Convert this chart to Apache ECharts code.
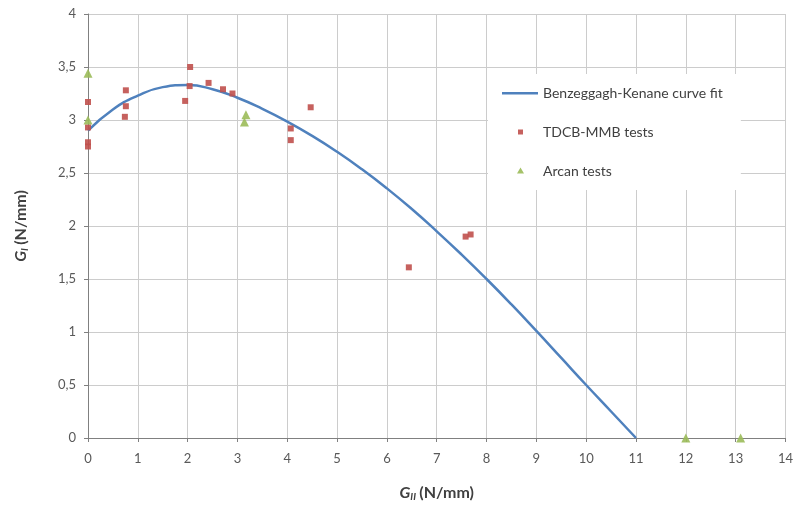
<!DOCTYPE html>
<html>
<head>
<meta charset="utf-8">
<script src="https://cdn.jsdelivr.net/npm/echarts@6/dist/echarts.min.js"></script>
<style>html,body{margin:0;padding:0;background:#fff}#c{width:796px;height:510px}</style>
</head>
<body>
<div id="c"></div>
<script>
var curveX = [0,0.5,1,1.5,2,2.5,3,3.5,4,4.5,5,5.5,6,6.5,7,7.5,8,8.5,9,9.5,10,10.5,11];
var curveY = [2.90,3.10,3.23,3.31,3.33,3.29,3.21,3.105,2.985,2.85,2.70,2.535,2.355,2.16,1.95,1.73,1.50,1.26,1.01,0.755,0.50,0.25,0];
var tdcbX = [0,0,0,0,0.76,0.76,0.74,1.95,2.05,2.04,2.42,2.71,2.90,4.07,4.07,4.47,6.44,7.58,7.68];
var tdcbY = [3.17,2.93,2.79,2.75,3.28,3.13,3.03,3.18,3.50,3.32,3.35,3.29,3.25,2.92,2.81,3.12,1.61,1.90,1.92];
var arcanX = [0,0,3.14,3.17,12.0,13.1];
var arcanY = [3.44,3.00,2.98,3.05,0,0];
var seriesNames = ['Benzeggagh-Kenane curve fit','TDCB-MMB tests','Arcan tests'];

function zip(a,b){return a.map(function(v,i){return [v,b[i]];});}
var FONT = 'Lato, "Open Sans", sans-serif';
var BOX = 'M0,0 L0.01,0 L0,0.01 Z M36,14 L35.99,14 L36,13.99 Z ';
var chart = echarts.init(document.getElementById('c'), null, {renderer:'canvas'});
chart.setOption({
  backgroundColor:'#fff',
  animation:false,
  grid:{left:88,right:8,top:14,bottom:72,containLabel:false},
  legend:{
    orient:'vertical',
    left:488, top:74,
    width:264,
    backgroundColor:'#fff',
    padding:[12,18,12,14],
    itemGap:25,
    itemWidth:36, itemHeight:14,
    textStyle:{fontFamily:FONT,fontSize:14,color:'#404040'},
    data:[
      {name:seriesNames[0], icon:'path://' + BOX + 'M0,6 L36,6 L36,8.5 L0,8.5 Z'},
      {name:seriesNames[1], icon:'path://' + BOX + 'M16,4.5 L21,4.5 L21,9.5 L16,9.5 Z'},
      {name:seriesNames[2], icon:'path://' + BOX + 'M18.5,3.5 L22,9.5 L15,9.5 Z'}
    ]
  },
  xAxis:{
    type:'value', min:0, max:14, interval:1,
    name:'{g|G}{s|II} {n|(N/mm)}', nameLocation:'middle', nameGap:46,
    nameTextStyle:{rich:{
      g:{fontFamily:FONT,fontSize:16,fontWeight:'bold',fontStyle:'italic',color:'#404040'},
      s:{fontFamily:FONT,fontSize:10,fontWeight:'bold',fontStyle:'italic',color:'#404040',verticalAlign:'bottom',padding:[8,0,0,0]},
      n:{fontFamily:FONT,fontSize:16,fontWeight:'bold',color:'#404040'}
    }},
    axisLine:{lineStyle:{color:'#808080',width:1}},
    axisTick:{show:true,length:4,lineStyle:{color:'#808080'}},
    axisLabel:{fontFamily:FONT,fontSize:13,color:'#595959',margin:14},
    splitLine:{show:true,lineStyle:{color:'#cccccc',width:1}}
  },
  yAxis:{
    type:'value', min:0, max:4, interval:0.5,
    name:'{g|G}{s|I} {n|(N/mm)}', nameLocation:'middle', nameGap:58, nameRotate:90,
    nameTextStyle:{rich:{
      g:{fontFamily:FONT,fontSize:16,fontWeight:'bold',fontStyle:'italic',color:'#404040'},
      s:{fontFamily:FONT,fontSize:10,fontWeight:'bold',fontStyle:'italic',color:'#404040',verticalAlign:'bottom',padding:[8,0,0,0]},
      n:{fontFamily:FONT,fontSize:16,fontWeight:'bold',color:'#404040'}
    }},
    axisLine:{show:true,lineStyle:{color:'#808080',width:1}},
    axisTick:{show:true,length:4,lineStyle:{color:'#808080'}},
    axisLabel:{fontFamily:FONT,fontSize:13,color:'#595959',margin:12,
      formatter:function(v){return String(v).replace('.',',');}},
    splitLine:{show:true,lineStyle:{color:'#cccccc',width:1}}
  },
  series:[
    {name:seriesNames[0], type:'line', data:zip(curveX,curveY), smooth:0.5, showSymbol:false, symbol:'none',
     lineStyle:{color:'#4f81bd',width:2.5}, itemStyle:{color:'#4f81bd'}, z:3},
    {name:seriesNames[1], type:'scatter', data:zip(tdcbX,tdcbY), symbol:'rect', symbolSize:6,
     itemStyle:{color:'#c0504d',opacity:0.9}, z:4},
    {name:seriesNames[2], type:'scatter', data:zip(arcanX,arcanY), symbol:'triangle', symbolSize:9,
     itemStyle:{color:'#9bbb59',opacity:0.9}, z:4}
  ]
});
</script>
</body>
</html>
